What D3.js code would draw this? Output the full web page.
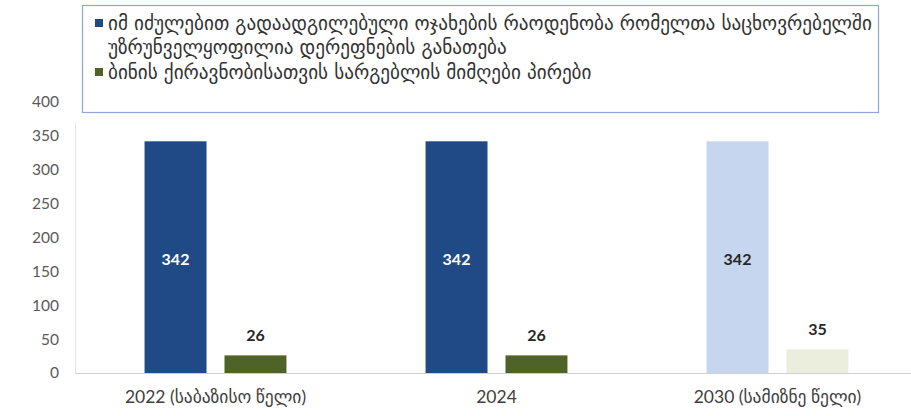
<!DOCTYPE html>
<html>
<head>
<meta charset="utf-8">
<script src="https://cdn.jsdelivr.net/npm/d3@7"></script>
<style>
    body { margin: 0; background: #fff; }
    svg { display: block; }
</style>
</head>
<body>
<svg id="chart"></svg>
<script>
// chart data
let categories = ["2022 (საბაზისო წელი)", "2024", "2030 (სამიზნე წელი)"];
let seriesNames = [
    "იმ იძულებით გადაადგილებული ოჯახების რაოდენობა რომელთა საცხოვრებელში",
    "ბინის ქირავნობისათვის სარგებლის მიმღები პირები"
];
let seriesNameWrap = "უზრუნველყოფილია დერეფნების განათება";
let familiesValues = [342, 342, 342];
let tenantsValues = [26, 26, 35];
let yTicks = [0, 50, 100, 150, 200, 250, 300, 350, 400];

// colours: last group is the target year, drawn lighter
let darkColors = ["#1f4a86", "#4f6228"];
let lightColors = ["#c6d6ee", "#ebeedd"];

let width = 911;
let height = 416;
let numFont = "Lato, 'Open Sans', sans-serif";
let geoFont = "'DejaVu Sans', sans-serif";

let svg = d3.select("#chart")
    .attr("width", width)
    .attr("height", height);

// scales
let x0 = d3.scaleBand()
    .domain(categories)
    .range([75, 918]);

let x1 = d3.scaleBand()
    .domain([0, 1])
    .range([0, x0.bandwidth()])
    .paddingInner(0.225)
    .paddingOuter(0.87);

let y = d3.scaleLinear()
    .domain([0, 400])
    .range([373, 102]);

// faint plot frame on the left
svg.append("line")
    .attr("x1", 75.5).attr("x2", 75.5)
    .attr("y1", 122).attr("y2", y(0))
    .attr("stroke", "#e4e6ee");

// y axis labels
let yAxis = d3.axisLeft(y).tickValues(yTicks).tickSize(0).tickPadding(0);
let yg = svg.append("g")
    .attr("transform", "translate(59,0)")
    .call(yAxis);
yg.select(".domain").remove();
yg.selectAll("text")
    .attr("font-family", numFont)
    .attr("font-size", 15.5)
    .attr("fill", "#595959");

// bars
let rows = categories.map((c, i) => ({
    cat: c,
    idx: i,
    values: [familiesValues[i], tenantsValues[i]]
}));

let groups = svg.selectAll(".grp")
    .data(rows)
    .enter().append("g")
    .attr("class", "grp")
    .attr("transform", d => `translate(${x0(d.cat)},0)`);

groups.selectAll("rect")
    .data(d => d.values.map((v, k) => ({ v: v, k: k, last: d.idx === categories.length - 1 })))
    .enter().append("rect")
    .attr("x", d => x1(d.k))
    .attr("width", x1.bandwidth())
    .attr("y", d => y(d.v))
    .attr("height", d => y(0) - y(d.v))
    .attr("fill", d => d.last ? lightColors[d.k] : darkColors[d.k]);

// value labels
groups.selectAll("text.val")
    .data(d => d.values.map((v, k) => ({ v: v, k: k, last: d.idx === categories.length - 1 })))
    .enter().append("text")
    .attr("class", "val")
    .attr("x", d => x1(d.k) + x1.bandwidth() / 2)
    .attr("y", d => d.k === 0 ? (y(d.v) + y(0)) / 2 + 2 : y(d.v) - 20)
    .attr("dy", "0.35em")
    .attr("text-anchor", "middle")
    .attr("font-family", numFont)
    .attr("font-weight", "bold")
    .attr("font-size", 16)
    .attr("fill", d => (d.k === 0 && !d.last) ? "#ffffff" : "#262626")
    .text(d => d.v);

// x axis line
svg.append("line")
    .attr("x1", 75).attr("x2", width)
    .attr("y1", y(0) + 0.5).attr("y2", y(0) + 0.5)
    .attr("stroke", "#d0d0d0");

// category labels: digits in the number font, Georgian falls back
svg.selectAll(".cat")
    .data(categories)
    .enter().append("text")
    .attr("class", "cat")
    .attr("x", d => x0(d) + x0.bandwidth() / 2)
    .attr("y", 397)
    .attr("dy", "0.35em")
    .attr("text-anchor", "middle")
    .attr("font-family", "Lato, 'DejaVu Sans', sans-serif")
    .attr("font-size", 17.5)
    .attr("fill", "#404040")
    .text(d => d);

// legend box
svg.append("rect")
    .attr("x", 82.5).attr("y", 5.5)
    .attr("width", 796).attr("height", 107)
    .attr("fill", "#fff")
    .attr("stroke", "#8ea5d6")
    .attr("stroke-width", 1.2);

let legendLines = [
    { text: seriesNames[0], y: 23, swatch: darkColors[0] },
    { text: seriesNameWrap, y: 47, swatch: null },
    { text: seriesNames[1], y: 72, swatch: darkColors[1] }
];

let legend = svg.append("g");
legend.selectAll("rect")
    .data(legendLines.filter(d => d.swatch))
    .enter().append("rect")
    .attr("x", 95).attr("y", d => d.y - 4)
    .attr("width", 8).attr("height", 8)
    .attr("fill", d => d.swatch);

let legendText = legend.selectAll("text")
    .data(legendLines)
    .enter().append("text")
    .attr("x", 108)
    .attr("y", d => d.y)
    .attr("dy", "0.35em")
    .attr("font-family", geoFont)
    .attr("font-size", 15)
    .attr("fill", "#333333")
    .text(d => d.text);

// fit the first legend line to the width it has in the picture
let firstLen = legendText.node().getComputedTextLength();
let fitted = 15 * 764 / firstLen;
legendText.attr("font-size", fitted);
</script>
</body>
</html>
